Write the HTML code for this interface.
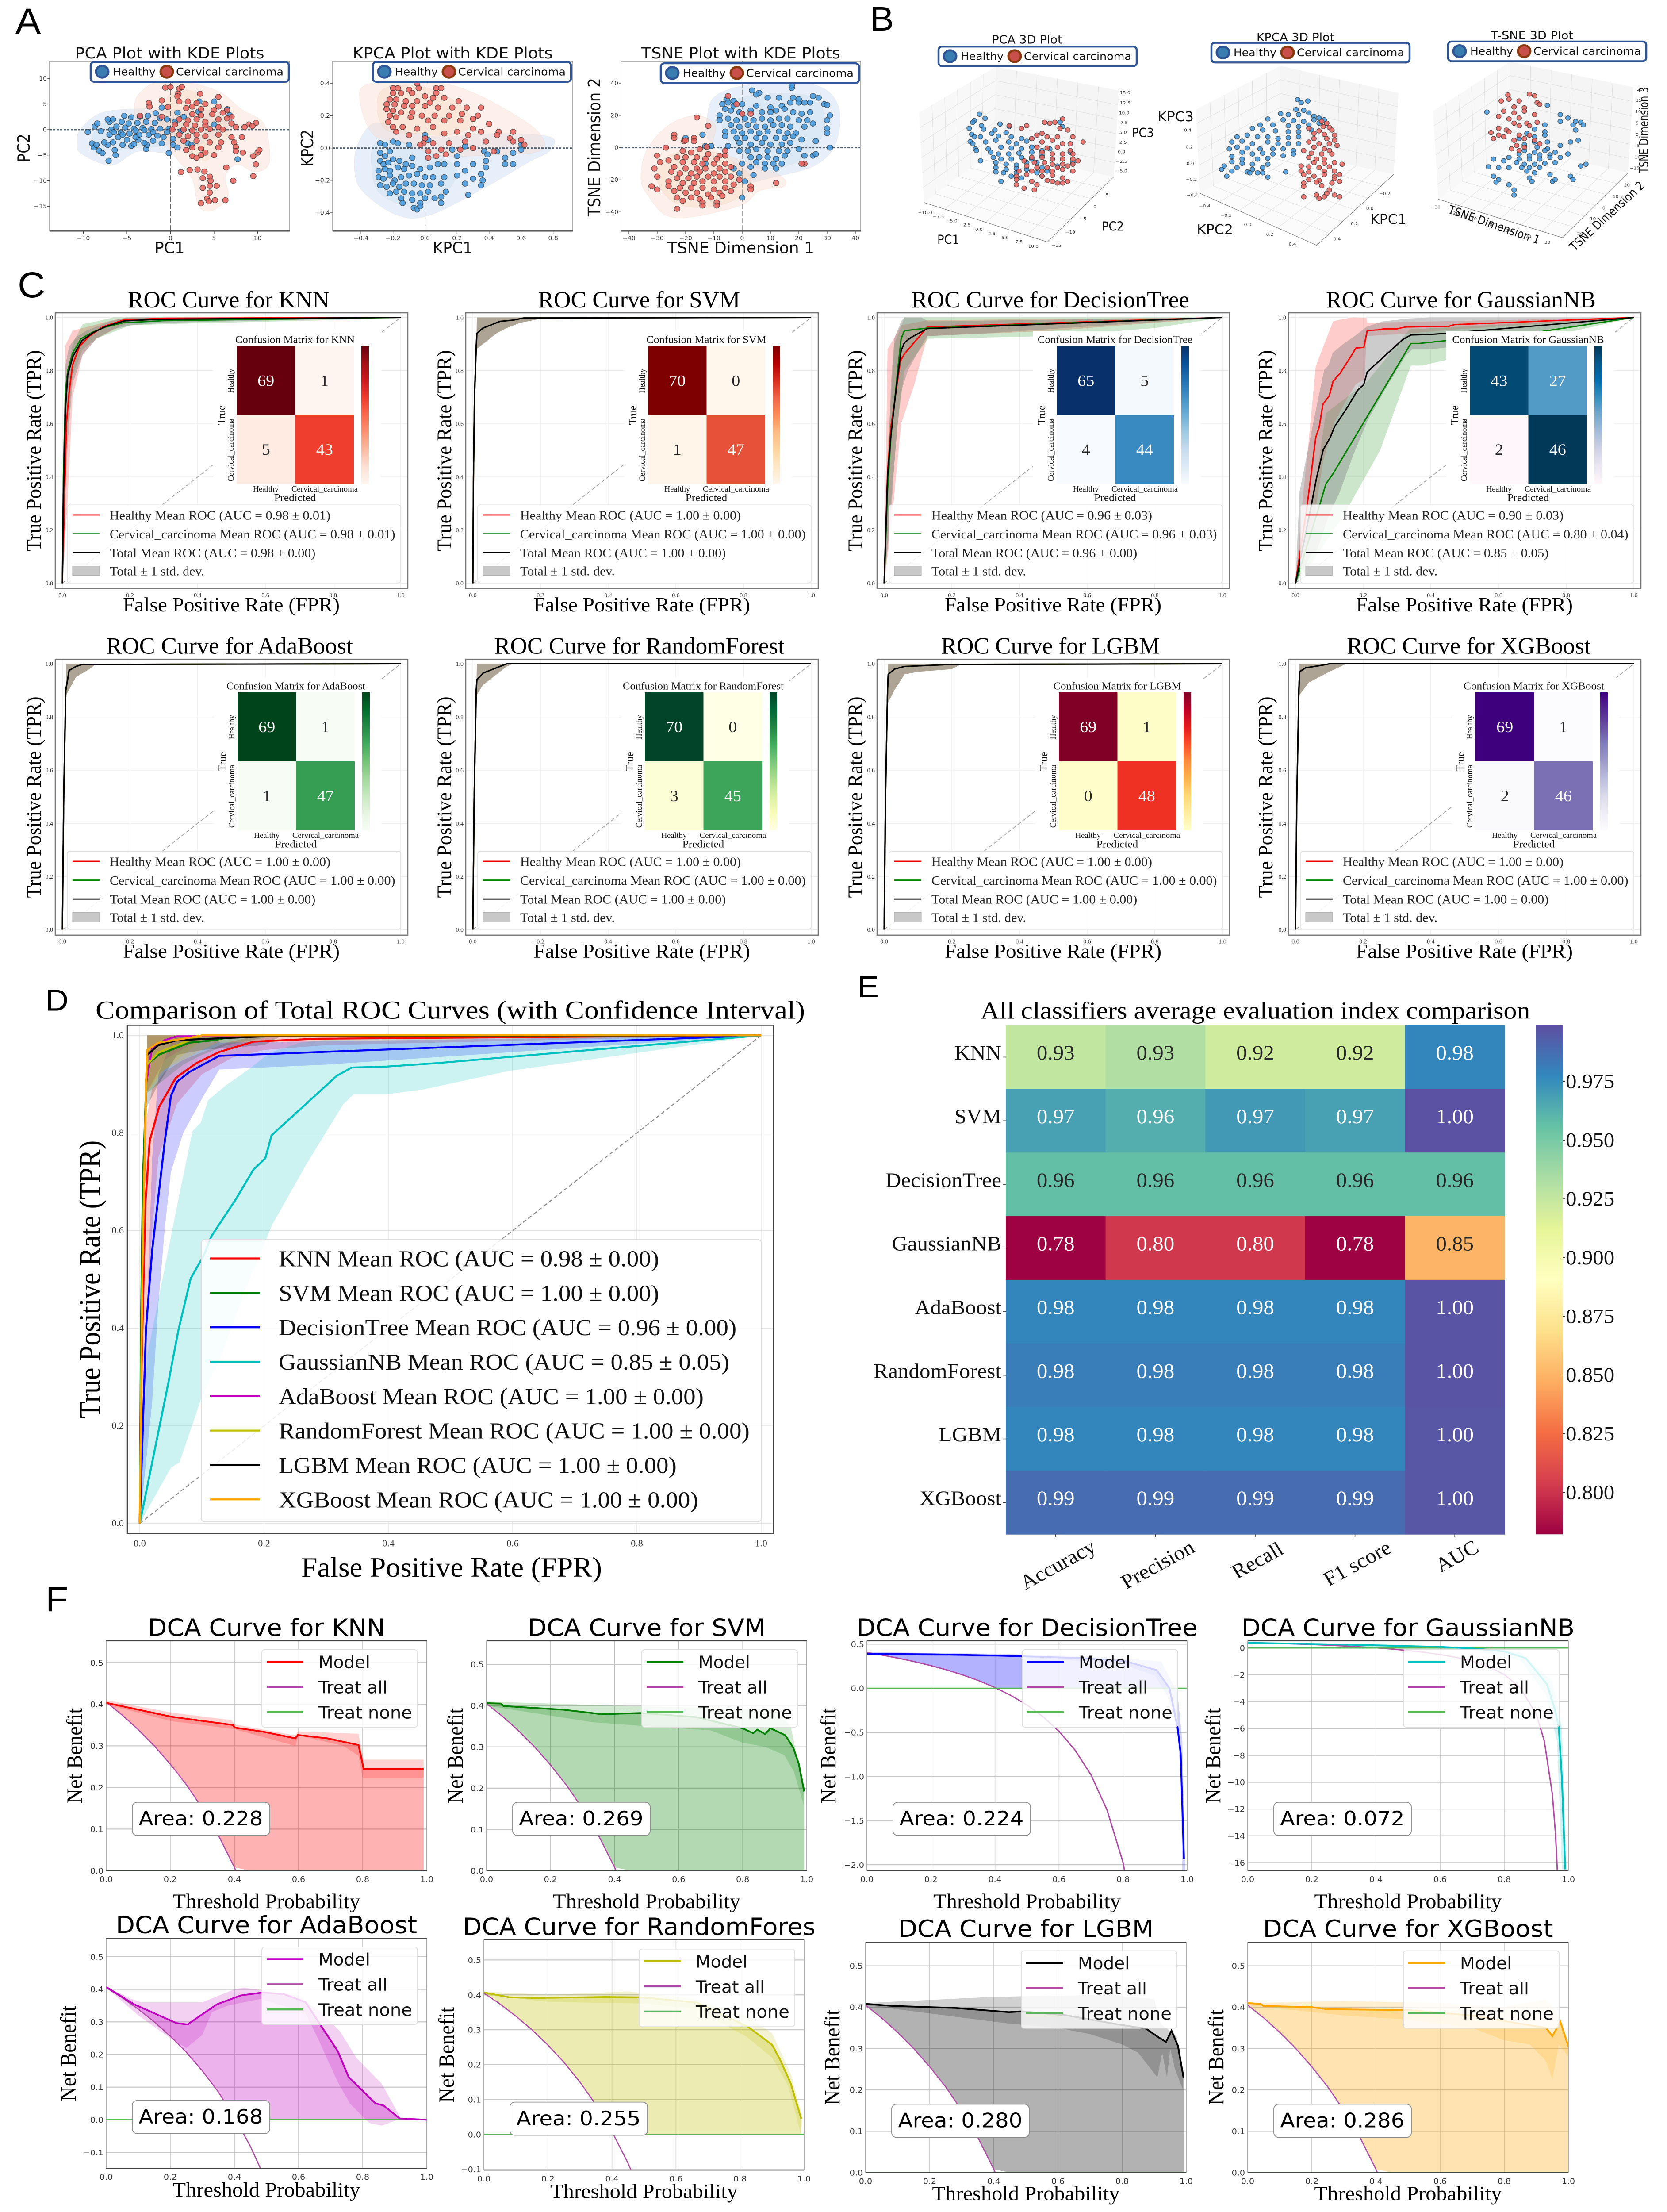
<!DOCTYPE html>
<html lang="en">
<head>
<meta charset="utf-8">
<title>Classifier comparison figure</title>
<style>
html,body{margin:0;padding:0;background:#fff;width:3769px;overflow:hidden}
html,body{height:min(5275px,100vh)}
svg{display:block;position:absolute;left:0;top:0;width:3769px;height:min(5275px,100vh)}
</style>
</head>
<body>
<svg id="figure" xmlns="http://www.w3.org/2000/svg" viewBox="0 0 3769 5275" preserveAspectRatio="none">
<rect width="3769" height="5275" fill="#fff"/>
<defs id="defs"></defs>
</svg>
<script>
/* ---------- Panel A data (axis units) ---------- */
const pcaHealthy=[[-9.5,-.5],[-8.7,.6],[-8.4,1.2],[-9,-2.7],[-8.8,-3.5],[-8.5,-3],[-8.2,-4.1],[-7.8,-4.6],[-7.1,-6.1],[-6.3,-5],[-6.4,-4],[-7.2,-3],[-6.6,-2.5],[-7.6,-2.5],[-5.5,-3],[-4.5,-3.2],[-4.2,-2.8],[-2.8,-3.8],[-2.7,-3],[-3.7,-2],[-5,-2],[-6,-1.5],[-7,-1],[-8,-.3],[-6.8,0],[-5.7,-.6],[-4.7,-.8],[-3.6,-1],[-2.5,-1],[-1.5,-1.2],[-.8,-1.5],[-6.2,.6],[-5.2,.4],[-4.2,.2],[-3.2,.3],[-2.2,.1],[-1.2,.2],[-.2,.2],[-7,1.5],[-7.2,2],[-6.6,2],[-5.6,1.5],[-4.8,1.2],[-3.8,1.3],[-2.8,1.5],[-1.8,1.3],[-5.3,2.7],[-4.5,2.4],[-3.5,2.5],[-2.6,2.7],[-1.7,3.2],[-1.2,2.2],[-1,4.3],[.8,3.3],[1.5,2.5],[.5,1.5],[-.4,2],[-.4,-.5],[1.2,-.3],[.3,-1.8],[-2,-2.2],[-1,-2.7],[.3,-3],[.8,-3.5],[-.2,-4.6],[2,-2.7],[2.4,-3],[3.2,3.5],[3.3,5.5],[5,5.5],[6.5,4],[6.8,2.8],[5,1],[7.7,-5.8],[-4,-1.5],[-3,-2.6],[-5.5,-1],[-6.5,-.5],[-4,-.2],[-3,-.1],[-2,-.5]];
const pcaCervical=[[-.6,8.2],[0,8.3],[1,8],[1.3,8.3],[.9,7],[.8,6.5],[3.4,7],[5.5,6.4],[-2.5,5.2],[-1,5.7],[1,5.5],[2,5.5],[3,5.2],[4,5],[5.5,4.5],[-2.4,4.5],[-.3,4.4],[1.8,4.2],[2.5,4.5],[3.5,4],[5,3.8],[6.5,3.8],[2.5,3],[3.5,2.8],[4.8,3],[6,3.3],[7,2.5],[-3.5,2.7],[-1,2.5],[1,2],[2,1.8],[3,2],[4,1.5],[5.5,2],[6.5,2.2],[.5,1],[1.8,1],[2.8,.8],[4,.8],[5.5,.5],[7,1.2],[9,1],[9.8,1.3],[.2,0],[1.5,0],[2.5,-.2],[3.5,0],[4.5,.1],[6,0],[7.5,.5],[8.5,.5],[9.4,.7],[1,-1],[2,-1.3],[3,-1],[4,-1.3],[5.5,-1],[7,-1.5],[8.2,-1.5],[1.5,-2.2],[3,-2.2],[4.5,-2.5],[5.8,-2.5],[7.3,-2.5],[2.5,-3.5],[3.5,-3.7],[5.5,-3.5],[7.5,-3.4],[1.8,-4],[3.5,-5],[4,-4.5],[5,-5],[2.5,-5.2],[7.5,-4.2],[8.3,-4.5],[10,-4.5],[9.5,-5.2],[10.2,-4],[3,-5.5],[9.8,-6.8],[6.4,-7.4],[1.2,-8.3],[2.2,-7.9],[3.1,-7.8],[3.9,-8.2],[3.7,-9.5],[4.5,-9.2],[4.6,-10],[7.2,-10],[9.5,-9.1],[3.7,-11.4],[4.5,-11],[5.3,-11],[4.5,-12.3],[4.2,-13.5],[4.4,-14],[5.1,-13.8],[6.3,-13.8],[3.5,-14.4]];
const pcaHealthyKde=[[-10.7,-3.1],[-10.4,-.1],[-7.9,3.3],[-3.2,4.1],[0,3.9],[5.7,3.6],[7.6,1.2],[5.7,-1.1],[2.5,-3.5],[-.6,-4.5],[-3.8,-4.3],[-6.3,-6.8],[-8.2,-6.5],[-10.4,-4.5]];
const pcaHealthyKdeInner=[[-9,-2.5],[-8,1],[-4,2.7],[0,2.5],[2,0],[-.5,-3],[-4,-3.5],[-7.5,-4]];
const pcaCervicalKde=[[-4.1,3.9],[-3.8,6.6],[-1.6,9.3],[2.2,9.1],[5.7,7.3],[8.2,3.9],[10.7,1.2],[11.4,-4.8],[11,-7.5],[9.5,-8.2],[7.6,-6.8],[6.3,-9.2],[6.6,-13.2],[4.7,-15.9],[3.2,-14.9],[2.5,-9.8],[.6,-5.5],[-1.3,-1.4],[-3.8,1.9]];
const pcaCervicalKdeInner=[[-1,3],[0,7],[2.5,7.5],[5,4],[7,1],[6,-3],[4,-6],[1.5,-4],[-1,-1]];
const kpcaHealthy=[[-.28,-.03],[-.25,-.05],[-.22,-.02],[-.28,.03],[-.25,.02],[-.2,.04],[-.17,.03],[-.1,.02],[0,.08],[.02,.05],[.17,-.01],[.25,.01],[.37,-.02],[.45,-.02],[.6,.02],[.6,-.01],[.55,-.03],[-.28,-.08],[-.26,-.1],[-.23,-.09],[-.2,-.07],[-.16,-.08],[-.12,-.1],[-.08,-.06],[.2,-.05],[.39,-.04],[.38,-.08],[.5,-.06],[-.29,-.14],[-.25,-.13],[-.22,-.14],[-.17,-.12],[-.13,-.13],[-.08,-.11],[-.03,-.13],[.03,-.12],[.08,-.1],[.12,-.1],[.2,-.1],[.3,-.1],[.38,-.12],[.5,-.1],[.55,-.1],[.25,-.14],[.35,-.16],[-.29,-.18],[-.26,-.19],[-.22,-.17],[-.19,-.2],[-.15,-.18],[-.1,-.17],[-.05,-.16],[0,-.18],[.05,-.18],[.12,-.18],[.2,-.17],[.3,-.19],[.36,-.2],[-.28,-.23],[-.24,-.24],[-.2,-.22],[-.16,-.24],[-.12,-.22],[-.07,-.22],[-.02,-.23],[.03,-.23],[.1,-.22],[.25,-.22],[.35,-.23],[-.22,-.28],[-.18,-.27],[-.13,-.27],[-.08,-.28],[-.03,-.28],[.02,-.27],[.13,-.27],[.27,-.29],[-.15,-.31],[-.08,-.32],[0,-.31],[.06,-.31],[.1,-.3],[-.14,-.34],[-.03,-.34],[.1,-.34],[-.07,-.37],[-.05,-.38],[-.03,-.36]];
const kpcaCervical=[[-.05,.4],[-.2,.37],[-.17,.37],[-.1,.36],[-.04,.37],[.07,.37],[.1,.37],[-.2,.34],[-.15,.34],[-.08,.34],[0,.32],[.07,.34],[.05,.31],[-.22,.3],[-.18,.3],[-.12,.29],[-.05,.29],[.03,.28],[.12,.31],[.21,.29],[-.24,.27],[-.19,.27],[-.13,.26],[-.08,.26],[0,.26],[.08,.25],[.17,.25],[.26,.25],[.35,.25],[-.24,.24],[-.2,.23],[-.15,.22],[-.08,.22],[-.02,.2],[.06,.2],[.15,.2],[.23,.21],[.3,.18],[.33,.2],[-.22,.2],[-.18,.19],[-.09,.19],[.02,.17],[.12,.17],[.22,.17],[.4,.15],[-.23,.16],[-.2,.13],[-.14,.13],[-.05,.12],[.05,.13],[.2,.1],[.3,.12],[.35,.1],[.46,.1],[.55,.1],[-.18,.1],[-.1,.08],[0,.06],[.12,.09],[.27,.08],[.45,.08],[.53,.06],[-.01,.03],[.05,.03],[.15,.03],[.25,.04],[.38,.04],[.55,.04],[.62,.02],[.6,.05],[-.03,.02],[.02,-.02],[.1,-.01],[.22,-.01],[.3,0],[.43,-.02],[.07,-.05],[.02,-.06],[.13,-.04]];
const kpcaHealthyKde=[[-.44,-.142],[-.423,.016],[-.32,.153],[-.148,.11],[.093,.069],[.436,.09],[.78,.069],[.78,-.016],[.643,-.09],[.368,-.248],[.024,-.417],[-.182,-.412],[-.388,-.269]];
const kpcaHealthyKdeInner=[[-.33,-.15],[-.31,.03],[-.1,.03],[.1,-.05],[.2,-.15],[.1,-.3],[-.1,-.36],[-.28,-.28]];
const kpcaCervicalKde=[[-.405,.28],[-.354,.396],[.024,.41],[.3,.343],[.643,.153],[.746,.037],[.694,-.026],[.436,-.042],[.093,-.047],[-.148,.037],[-.32,.079]];
const kpcaCervicalKdeInner=[[-.3,.25],[-.25,.37],[-.02,.38],[.2,.28],[.3,.15],[.15,.08],[-.05,.09],[-.24,.11]];
const tsneHealthy=[[17.5,37],[17.5,38.5],[3.5,35.5],[6,34],[5,33],[-5.5,30],[-3,29],[9,31],[13,31],[18,31],[20,30],[25,32],[27,31],[-7,27],[-5,28],[-3,26],[0,27],[5,26],[10,25],[14,26],[17,28],[20,28],[22,28],[24,28],[29,27],[30,26.5],[-8,20],[-6,24],[-4,23],[-1,22],[3,23],[7,22],[10,22],[12,23],[15,24],[18,22],[21,21],[24,22],[-8,17],[-5,18],[-2,17],[1,18],[4,17],[7,18],[10,17],[13,18],[16,18],[20,17],[23,17],[31,20],[30,17],[-4,14],[-1,13],[2,14],[5,13],[8,13],[11,14],[14,14],[17,13],[22,13],[25,15],[-6,10],[-3,10],[0,9],[3,10],[6,9],[9,10],[13,10],[16,9],[19,9],[-6,7],[-2,6],[1,6],[5,6],[8,6],[12,6],[15,6],[18,7],[21,5],[26,4],[30,9],[30,12],[-1,3],[3,2],[7,3],[10,2],[14,2],[17,3],[20,-1],[31,0],[-1,-2],[2,-2],[5,-1],[9,-2],[13,-2],[16,-2],[22,-5],[25,-5],[26,-4],[3,-6],[6,-6],[9,-6],[12,-7],[15,-5],[5,-9],[8,-10],[11,-10],[14,-10],[3,-12],[8,-13],[12,-13],[4,-17],[1,-21],[0,-31],[-13,-10],[-1,-16],[-14,8],[-20,6],[-5,1],[-11,1],[-13,1],[0,-10],[-3,-13]];
const tsneCervical=[[-16,18.7],[-12,13.5],[-24,8],[-24,6],[-17,6],[-17,4],[-20.5,4],[-20,4.5],[-27,0],[-12.5,.5],[-30,-5],[-15,-1],[-21,-2],[-18,-3],[-12,-4],[-8,-5],[-6,-5],[-23,-6],[-20,-6],[-16,-6],[-13,-7],[-9,-7],[-26,-8],[-29,-9],[-21,-9],[-17,-9],[-14,-10],[-10,-10],[-6,-10],[-31,-13],[-24,-12],[-20,-13],[-16,-13],[-13,-13],[-8,-13],[-4,-12],[-25,-15],[-22,-16],[-18,-16],[-15,-15],[-10,-16],[-6,-15],[-30,-18],[-23,-19],[-19,-19],[-16,-18],[-12,-18],[-8,-18],[-4,-18],[-1,-20],[-26,-21],[-21,-22],[-17,-22],[-14,-21],[-10,-21],[-6,-21],[-3,-23],[-32,-24],[-30,-26],[-26,-24],[-22,-25],[-18,-25],[-14,-25],[-10,-26],[-6,-25],[3,-24],[3,-26],[-24,-27],[-20,-28],[-16,-28],[-12,-29],[-8,-28],[-4,-27],[-23,-31],[-18,-31],[-15,-32],[-11,-31],[-7,-30],[-21,-33],[-14,-34],[-9,-34],[-23,-38],[-14,-36],[-9,-36],[22,-10],[21,-10],[12,-22],[-6,-2],[-5,32],[-2,27],[3,21],[0,21]];
const tsneHealthyKde=[[-12.5,17.3],[-9.5,32],[4,39.5],[25.5,39],[34,25.7],[33,2.4],[25.5,-11.3],[10,-18.8],[-1.8,-23],[-1.8,-12.4],[-9.5,1.4],[-12.5,6.7]];
const tsneHealthyKdeInner=[[-7,12],[-5,27],[6,33],[24,32],[29,20],[27,3],[18,-10],[6,-13],[-1,-3]];
const tsneCervicalKde=[[-35.8,-19.8],[-33.8,-1.8],[-26,14],[-16.3,19.9],[-9.5,14],[-9.5,-.7],[4,-10.3],[13.8,-17.7],[14.8,-24],[6,-27],[-.2,-35.7],[-17.3,-43],[-27,-42],[-33,-30.4]];
const tsneCervicalKdeInner=[[-30,-20],[-27,-6],[-15,-1],[-6,-6],[3,-18],[0,-30],[-12,-37],[-24,-34]];
const pcaXTicks=[-10,-5,0,5,10];
const pcaYTicks=[10,5,0,-5,-10,-15];
const kpcaXTicks=[-.4,-.2,0,.2,.4,.6,.8];
const kpcaYTicks=[.4,.2,0,-.2,-.4];
const tsneXTicks=[-40,-30,-20,-10,0,10,20,30,40];
const tsneYTicks=[40,20,0,-20,-40];

/* ---------- Panel B data (projected scene coordinates) ---------- */
const pca3dHealthy=[[22.8,66.8],[23.9,69.2],[21.8,70.5],[21.5,71.5],[23.2,73.5],[20.8,75],[23.6,75.5],[26.8,72.5],[25.8,76],[28,77.5],[21.3,78.5],[21.8,80],[25.2,78],[23,80],[26.5,79.5],[29,80],[31,81],[33,81],[21,82.8],[21.5,84],[24,83],[26,82],[28.5,83],[30,84],[32,82.5],[22,87],[24.5,87],[27,86],[29,86.5],[31,87],[33,86],[22.2,88],[25,89],[26.5,90],[28.5,90],[30.5,89.5],[33,89],[35,88],[36.5,87],[25.5,92],[27,93],[29,93],[31,92],[23,94],[33,93],[35,91],[26,95],[28,96],[30,96.5],[32,95],[34,95],[37,93],[26,98],[28,99],[30,98.5],[32,99],[35,98],[26,100.5],[27.5,101],[30,101],[34,101],[36,100],[38,97],[29,103],[31,104],[35,103],[27,106],[40.5,89],[39,74],[38.5,71.5],[28.6,74],[41,95]];
const pca3dCervical=[[35.5,71.5],[36.5,72],[37.5,71.5],[39,69.5],[28.6,73.5],[32,73.5],[31,75],[38.5,75],[40,76],[35,78],[34,79],[36,80],[38,80],[33,81],[41,80],[35,83],[37,82],[39,84],[43,83],[40.5,84],[34,86],[36,86.5],[38,86],[40.5,88],[35,89],[37,90],[39,90],[41,90],[33,92],[35,92],[37,93],[39,93],[41,93],[42,94],[31.5,94],[33.5,95],[35.5,95],[37,96],[39,96],[41,96],[32,97],[34,98],[36,98],[38,98],[40,97],[30.5,100],[33,100],[35,100],[37,100],[39,99],[41,100],[30,103],[32,102],[35,103],[37,102.5],[39,104],[30,105],[33,106],[36,105.5],[38,107],[40,106],[30,108],[34,108],[31.5,110],[33.5,111],[39,107],[37,106]];
const kpca3dHealthy=[[84.8,58.2],[85.5,60],[86.8,59],[84.5,64],[86,64.5],[81.5,66.5],[83,67],[85,67],[87,66],[88,68],[79,69.5],[82,70],[84,70.5],[86,71],[88,70],[89,69],[90,70],[77.5,73],[80,73],[83,73.5],[85,74],[87,73],[89,72],[76,75],[78,76],[80.5,76.5],[83,77],[85,77],[87.5,76],[73,80],[75,79],[77,80],[79,80],[81,81],[83,80.5],[85,80],[72,83],[74,82.5],[76,84],[79,83],[81,84],[83,84],[85,84],[73,86],[75,86.5],[77.5,87],[80,87],[82,87],[84,88],[71.5,87],[74,89],[76,90],[78,89.5],[80,90],[82,91],[84,90],[72,91.5],[74,93],[77,93],[79,92.5],[72,94.5],[74,95.5],[76,96],[79,96],[73,98],[76,99],[78,98],[70.5,97],[70,99],[72,100],[75,100.5],[78,101],[71,103],[75.5,101],[77,101],[79,103.5],[82.5,100.5]];
const kpca3dCervical=[[89.5,71],[90.5,72],[89.8,74],[91,74.5],[87,75],[89,76.5],[91.5,76],[88,78],[90,78.5],[92,79],[88,81],[90.5,81],[92,82],[87,83],[89,84],[91,84],[92.5,85],[88,86],[90,87],[91,88],[86,88],[87.5,89.5],[89.5,90],[91.5,90],[87,92],[88.5,93],[90,93],[88,95],[90,95.5],[92,95],[93.5,96],[85.5,97],[87,97.5],[89,98],[91,97.5],[85.5,100],[87,100.5],[90,100],[92,100],[86,102],[88,103],[90,102],[93,102],[92,103],[87,105],[89,105.5],[92,104.5],[86,107],[88.5,106.5],[91.5,107],[93,106],[86,109],[89.5,108.5],[91,111],[90.5,113],[88.5,114],[90,115],[92,114],[93,115],[86,115],[89,116]];
const tsne3dHealthy=[[121.7,65.5],[133.5,61.5],[136,67],[137.5,69],[139,71],[140,71.5],[136,71],[138.5,73],[140.5,73],[139,76],[133,73],[131,75.5],[133,77],[129.5,78],[131,80],[133,79],[128,81],[131,83],[133.5,83],[129,84.5],[131.5,86],[133.5,87],[139.5,82],[138,83],[136,85],[129,88],[131,89],[133,88],[135,89],[130,91],[132,90.5],[134,90.5],[137.5,90],[128,90],[126,92],[128,93],[130,93],[132,93],[134,92],[136,92],[123,93],[125,94],[127.5,95],[129,96],[131,96],[133,95.5],[135,95],[122,97.5],[124,98],[126,98],[128.5,98],[130,98],[132,98],[129.5,100],[131,101],[134,102],[141,96],[140,97],[123,103],[124,105],[123.5,106.5],[126,108],[127,111],[130.5,106],[134.5,106],[135,105],[138,103],[138.5,105],[127,114],[130,104]];
const tsne3dCervical=[[125.8,55.5],[130,55],[131,56],[124.5,59],[126,58],[128,59],[131.5,60],[132,61],[127,62.5],[129,63],[125,65],[127,66],[129,65],[131,67],[124,68],[126,69.5],[128,69],[127,72],[129.5,72],[131.5,71.5],[124,75],[125.5,76],[128,73.5],[130,73.5],[122.5,77.5],[124,79],[126,77],[128,79],[130,79],[123,81],[125,80],[127,82],[129,81],[131,82],[127.5,85],[129,86],[126.5,87],[128,88],[132,84]];

/* ---------- Panel C / D ROC data ---------- */
const rocTicks=[0,.2,.4,.6,.8,1];
const knnTotal=[[0,0],[.003,.33],[.009,.656],[.016,.784],[.031,.853],[.058,.913],[.091,.943],[.128,.966],[.183,.987],[.283,.993],[1,1]];
const knnHealthy=[[0,0],[.006,.3],[.012,.6],[.02,.72],[.03,.82],[.05,.89],[.08,.93],[.12,.965],[.18,.99],[.3,.997],[1,1]];
const knnCervical=[[0,0],[.003,.4],[.009,.72],[.016,.8],[.03,.865],[.055,.92],[.09,.945],[.13,.965],[.18,.98],[.3,.988],[1,1]];
const knnUp=[[0,0],[.004,.5],[.009,.82],[.02,.89],[.04,.925],[.07,.95],[.1,.965],[.14,.985],[.19,1],[1,1]];
const knnLow=[[0,0],[.01,.4],[.02,.6],[.03,.75],[.06,.86],[.1,.92],[.15,.955],[.2,.97],[.3,.98],[1,1]];
const knnHUp=[[0,0],[.008,.5],[.009,.895],[.03,.95],[.06,.96],[.15,.99],[.2,1],[1,1]];
const knnHLow=[[0,0],[.015,.3],[.03,.7],[.06,.86],[.1,.92],[.2,.985],[1,1]];
const knnCUp=[[0,0],[.01,.75],[.03,.9],[.06,.975],[.1,.985],[.15,1],[1,1]];
const knnCLow=[[0,0],[.01,.5],[.03,.78],[.06,.88],[.1,.92],[.2,.97],[.3,.975],[.8,.99],[1,1]];
const svmTotal=[[0,0],[.002,.4],[.005,.7],[.01,.89],[.012,.94],[.03,.96],[.06,.975],[.08,.985],[.12,.99],[.15,.998],[1,1]];
const svmUp=[[0,0],[.005,.7],[.01,.88],[.012,1],[1,1]];
const svmLow=[[0,0],[.005,.7],[.01,.88],[.03,.9],[.07,.94],[.1,.96],[.14,.98],[.2,.995],[.21,1],[1,1]];
const dtTotal=[[0,0],[.01,.4],[.02,.56],[.04,.78],[.05,.875],[.06,.905],[.08,.925],[.128,.958],[1,1]];
const dtHealthy=[[0,0],[.01,.417],[.02,.588],[.048,.836],[.06,.863],[.128,.964],[1,1]];
const dtCervical=[[0,0],[.01,.35],[.02,.55],[.04,.8],[.05,.92],[.06,.95],[.128,.96],[1,1]];
const dtUp=[[0,0],[.008,.3],[.02,.75],[.03,.92],[.05,.985],[.06,1],[.11,1],[.13,.985],[1,1]];
const dtLow=[[0,0],[.02,.25],[.03,.45],[.04,.6],[.05,.72],[.07,.8],[.1,.87],[.128,.93],[.3,.94],[1,1]];
const dtHUp=[[0,0],[.01,.88],[.05,.97],[.13,.99],[1,1]];
const dtHLow=[[0,0],[.02,.2],[.05,.6],[.09,.75],[.128,.93],[.5,.95],[1,1]];
const dtCUp=[[0,0],[.01,.5],[.03,.9],[.06,1],[.13,1],[1,1]];
const dtCLow=[[0,0],[.02,.3],[.04,.6],[.06,.8],[.13,.92],[.5,.93],[.8,.96],[1,1]];
const gnbTotal=[[0,0],[.046,.288],[.062,.395],[.082,.502],[.103,.549],[.115,.588],[.155,.665],[.183,.725],[.202,.748],[.212,.795],[.317,.917],[.341,.934],[.397,.936],[.478,.943],[1,1]];
const gnbHealthy=[[0,0],[.034,.288],[.06,.549],[.07,.588],[.081,.673],[.1,.706],[.111,.759],[.131,.789],[.155,.836],[.179,.885],[.202,.887],[.212,.951],[.244,.953],[.26,.957],[.3,.957],[.325,.964],[.454,.967],[.47,.973],[1,1]];
const gnbCervical=[[0,0],[.074,.305],[.09,.374],[.111,.412],[.341,.902],[.365,.902],[.446,.913],[.64,.93],[1,1]];
const gnbUp=[[0,0],[.012,.344],[.06,.651],[.085,.804],[.098,.821],[.11,.867],[.137,.896],[.176,.931],[.21,.965],[.258,.985],[.336,.996],[.396,1],[1,1]];
const gnbLow=[[0,0],[.05,.114],[.064,.125],[.1,.26],[.13,.34],[.17,.48],[.213,.612],[.27,.74],[.327,.858],[.344,.879],[.396,.879],[.456,.889],[.594,.927],[1,1]];
const gnbHUp=[[0,0],[.02,.3],[.04,.55],[.06,.817],[.111,.985],[.139,.994],[.171,1],[.21,.998],[.212,.98],[1,1]];
const gnbHLow=[[0,0],[.05,.203],[.082,.459],[.115,.605],[.155,.7],[.179,.75],[.204,.767],[.21,.93],[.317,.938],[.478,.955],[1,1]];
const gnbCUp=[[0,0],[.05,.3],[.09,.64],[.212,.759],[.337,.955],[1,1]];
const gnbCLow=[[0,0],[.06,.1],[.14,.25],[.25,.5],[.341,.819],[.373,.819],[.478,.849],[1,1]];
const adaTotal=[[0,0],[.004,.5],[.01,.9],[.02,.975],[.04,.99],[.06,.998],[1,1]];
const adaUp=[[0,0],[.004,.5],[.01,.88],[.012,1],[1,1]];
const adaLow=[[0,0],[.004,.5],[.01,.88],[.04,.95],[.08,.98],[.1,1],[1,1]];
const rfTotal=[[0,0],[.004,.5],[.01,.9],[.012,.94],[.03,.965],[.06,.98],[.08,.99],[.1,1],[1,1]];
const rfUp=[[0,0],[.004,.5],[.01,.88],[.012,1],[1,1]];
const rfLow=[[0,0],[.004,.5],[.01,.88],[.03,.92],[.06,.95],[.1,.99],[.12,1],[1,1]];
const lgbmTotal=[[0,0],[.004,.5],[.01,.9],[.012,.96],[.03,.98],[.06,.99],[.2,.998],[1,1]];
const lgbmUp=[[0,0],[.004,.5],[.01,.85],[.012,1],[1,1]];
const lgbmLow=[[0,0],[.004,.5],[.01,.85],[.03,.9],[.06,.96],[.1,.97],[.2,.98],[.23,1],[1,1]];
const xgbTotal=[[0,0],[.004,.5],[.01,.9],[.012,.97],[.03,.985],[.08,.995],[.1,1],[1,1]];
const xgbUp=[[0,0],[.004,.5],[.01,.88],[.012,1],[1,1]];
const xgbLow=[[0,0],[.004,.5],[.01,.88],[.04,.93],[.1,.97],[.15,1],[1,1]];
const knnConfusion=[69,1,5,43];
const svmConfusion=[70,0,1,47];
const dtConfusion=[65,5,4,44];
const gnbConfusion=[43,27,2,46];
const adaConfusion=[69,1,1,47];
const rfConfusion=[70,0,3,45];
const lgbmConfusion=[69,1,0,48];
const xgbConfusion=[69,1,2,46];
const confusionLabels=['Healthy','Cervical_carcinoma'];
const rocLegendAuc=[['0.98 ± 0.01','0.98 ± 0.01','0.98 ± 0.00'],['1.00 ± 0.00','1.00 ± 0.00','1.00 ± 0.00'],['0.96 ± 0.03','0.96 ± 0.03','0.96 ± 0.00'],['0.90 ± 0.03','0.80 ± 0.04','0.85 ± 0.05'],['1.00 ± 0.00','1.00 ± 0.00','1.00 ± 0.00'],['1.00 ± 0.00','1.00 ± 0.00','1.00 ± 0.00'],['1.00 ± 0.00','1.00 ± 0.00','1.00 ± 0.00'],['1.00 ± 0.00','1.00 ± 0.00','1.00 ± 0.00']];
const modelNames=['KNN','SVM','DecisionTree','GaussianNB','AdaBoost','RandomForest','LGBM','XGBoost'];
const modelColors=['#ff0000','#008000','#0000ff','#00bfbf','#bf00bf','#bfbf00','#000000','#ffa500'];
const totalAucLabels=['0.98 ± 0.00','1.00 ± 0.00','0.96 ± 0.00','0.85 ± 0.05','1.00 ± 0.00','1.00 ± 0.00','1.00 ± 0.00','1.00 ± 0.00'];

/* ---------- Panel E data ---------- */
const metricNames=['Accuracy','Precision','Recall','F1 score','AUC'];
const scoreKNN=[.926,.932,.921,.921,.978];
const scoreSVM=[.968,.963,.971,.968,.998];
const scoreDT=[.957,.957,.957,.957,.957];
const scoreGNB=[.783,.802,.802,.783,.85];
const scoreAda=[.978,.978,.978,.978,.997];
const scoreRF=[.981,.981,.981,.981,.997];
const scoreLGBM=[.978,.978,.978,.978,.996];
const scoreXGB=[.988,.988,.988,.988,.996];
const colorbarTicks=[.975,.95,.925,.9,.875,.85,.825,.8];

/* ---------- Panel F data ---------- */
const dcaXTicks=[0,.2,.4,.6,.8,1];
const treatAllThreshold=[0,.05,.1,.15,.2,.25,.3,.35,.4,.45,.5,.55,.6,.65,.7,.75,.8,.85,.9,.925,.95,.96,.97];
const treatAllBenefit=[.405,.374,.339,.3,.256,.207,.15,.085,.008,-.082,-.19,-.322,-.488,-.7,-.983,-1.38,-1.975,-2.97,-4.95,-6.93,-10.9,-13.9,-18.8];
const dcaKnn=[[0,.4035],[.204,.37],[.397,.35],[.4,.344],[.49,.334],[.59,.318],[.598,.326],[.69,.318],[.787,.302],[.803,.245],[.99,.245]];
const dcaKnnUp=[[0,.41],[.204,.38],[.39,.362],[.4,.352],[.59,.325],[.598,.335],[.787,.329],[.803,.267],[.99,.267]];
const dcaKnnLow=[[0,.4],[.2,.36],[.4,.34],[.59,.3],[.6,.325],[.74,.3],[.787,.276],[.8,.222],[.99,.222]];
const dcaSvm=[[0,.406],[.045,.405],[.053,.399],[.24,.39],[.33,.382],[.36,.379],[.48,.382],[.57,.377],[.657,.372],[.8,.345],[.833,.333],[.845,.342],[.87,.331],[.887,.345],[.933,.328],[.958,.298],[.975,.259],[.992,.192]];
const dcaSvmUp=[[0,.41],[.4,.4],[.9,.39],[.95,.35],[.99,.2]];
const dcaSvmLow=[[0,.4],[.33,.36],[.5,.35],[.7,.34],[.8,.31],[.87,.3],[.93,.28],[.96,.24],[.99,.16]];
const dcaDt=[[0,.39],[.2,.385],[.41,.37],[.485,.362],[.66,.343],[.805,.309],[.905,.205],[.945,-.002],[.97,-.44],[.98,-.74],[.99,-1.93]];
const dcaDtUp=[[0,.41],[.41,.39],[.66,.365],[.805,.34],[.92,.3],[.97,-.05],[.985,-.6],[.995,-2.1]];
const dcaDtLow=[[0,.38],[.5,.35],[.8,.27],[.9,.14],[.94,-.1],[.97,-.5],[.98,-1],[.985,-2.1]];
const dcaGnb=[[0,.38],[.2,.3],[.4,.2],[.6,.08],[.7,-.03],[.8,-.25],[.867,-.76],[.933,-2.7],[.957,-4.5],[.97,-5.9],[.98,-9.8],[.99,-16.5]];
const dcaGnbUp=[[0,.42],[.4,.26],[.7,.06],[.85,-.3],[.95,-2.5],[.98,-6],[.995,-16.5]];
const dcaGnbLow=[[0,.34],[.4,.14],[.7,-.15],[.85,-.9],[.93,-3.5],[.965,-7],[.98,-16.5]];
const dcaAda=[[0,.407],[.087,.354],[.22,.296],[.254,.292],[.28,.31],[.346,.354],[.42,.381],[.488,.39],[.555,.385],[.622,.36],[.672,.285],[.722,.211],[.756,.131],[.84,.05],[.865,.044],[.915,.004],[1,0]];
const dcaAdaUp=[[0,.407],[.08,.37],[.11,.36],[.3,.36],[.4,.4],[.43,.405],[.5,.395],[.6,.38],[.67,.33],[.73,.27],[.78,.19],[.86,.11],[.91,.02],[.92,0],[1,0]];
const dcaAdaLow=[[0,.405],[.1,.32],[.2,.25],[.25,.22],[.3,.26],[.33,.33],[.38,.35],[.48,.37],[.62,.33],[.66,.25],[.72,.12],[.76,.05],[.82,-.01],[.86,-.018],[.91,0],[1,0]];
const dcaRf=[[0,.407],[.08,.393],[.16,.391],[.38,.394],[.49,.393],[.665,.378],[.824,.309],[.9,.257],[.924,.216],[.958,.147],[.991,.045]];
const dcaRfUp=[[0,.41],[.2,.4],[.45,.41],[.65,.39],[.82,.34],[.9,.29],[.96,.17],[.995,.05]];
const dcaRfLow=[[0,.4],[.2,.38],[.5,.375],[.66,.36],[.82,.28],[.9,.22],[.95,.14],[.99,0]];
const dcaLgbm=[[0,.408],[.085,.403],[.283,.398],[.447,.388],[.488,.39],[.63,.38],[.79,.358],[.875,.348],[.916,.326],[.937,.316],[.954,.343],[.974,.307],[.992,.228]];
const dcaLgbmUp=[[0,.41],[.4,.425],[.75,.43],[.9,.42],[.92,.36],[.97,.33],[.99,.23]];
const dcaLgbmLow=[[0,.405],[.2,.385],[.35,.37],[.45,.36],[.6,.35],[.7,.335],[.8,.31],[.85,.29],[.91,.23],[.925,.29],[.94,.23],[.95,.3],[.965,.25],[.99,.2]];
const dcaXgb=[[0,.41],[.04,.408],[.05,.403],[.2,.4],[.25,.395],[.5,.393],[.7,.38],[.85,.36],[.93,.35],[.95,.33],[.975,.365],[1,.305]];
const dcaXgbUp=[[0,.41],[.3,.415],[.6,.41],[.8,.4],[.93,.42],[.96,.39],[1,.32]];
const dcaXgbLow=[[0,.405],[.3,.38],[.5,.37],[.7,.35],[.8,.32],[.88,.31],[.93,.27],[.95,.225],[.97,.31],[1,.28]];
const dcaAreas=['0.228','0.269','0.224','0.072','0.168','0.255','0.280','0.286'];

/* ---------- Color maps ---------- */
const Reds=['#fff5f0','#fee0d2','#fcbba1','#fc9272','#fb6a4a','#ef3b2c','#cb181d','#a50f15','#67000d'];
const OrRd=['#fff7ec','#fee8c8','#fdd49e','#fdbb84','#fc8d59','#ef6548','#d7301f','#b30000','#7f0000'];
const Blues=['#f7fbff','#deebf7','#c6dbef','#9ecae1','#6baed6','#4292c6','#2171b5','#08519c','#08306b'];
const PuBu=['#fff7fb','#ece7f2','#d0d1e6','#a6bddb','#74a9cf','#3690c0','#0570b0','#045a8d','#023858'];
const Greens=['#f7fcf5','#e5f5e0','#c7e9c0','#a1d99b','#74c476','#41ab5d','#238b45','#006d2c','#00441b'];
const YlGn=['#ffffe5','#f7fcb9','#d9f0a3','#addd8e','#78c679','#41ab5d','#238443','#006837','#004529'];
const YlOrRd=['#ffffcc','#ffeda0','#fed976','#feb24c','#fd8d3c','#fc4e2a','#e31a1c','#bd0026','#800026'];
const Purples=['#fcfbfd','#efedf5','#dadaeb','#bcbddc','#9e9ac8','#807dba','#6a51a3','#54278f','#3f007d'];
const Spectral=['#9e0142','#d53e4f','#f46d43','#fdae61','#fee08b','#ffffbf','#e6f598','#abdda4','#66c2a5','#3288bd','#5e4fa2'];

/* ---------- Helpers ---------- */
const NS='http://www.w3.org/2000/svg';
const root=document.getElementById('figure');
const defs=document.getElementById('defs');
const SANS='"DejaVu Sans",sans-serif';
const SERIF='"Liberation Serif",serif';
let uid=0;
function el(parent,tag,name,attrs){
  const e=document.createElementNS(NS,tag);
  
  
  for(const k in attrs)e.setAttribute(k,attrs[k]);
  parent.appendChild(e);
  return e;
}
function group(parent,name){return el(parent,'g',name,{});}
function txt(parent,name,s,x,y,size,fam,o){
  o=o||{};
  const a={x:x,y:y,'font-size':size,'font-family':fam,fill:o.fill||'#111','text-anchor':o.anchor||'start'};
  if(o.len){a.textLength=o.len;a.lengthAdjust='spacingAndGlyphs';}
  if(o.rot!==undefined)a.transform='rotate('+o.rot+' '+x+' '+y+')';
  if(o.clip)a['clip-path']='url(#'+o.clip+')';
  const t=el(parent,'text',name,a);
  t.textContent=s;
  return t;
}
function scale(v0,p0,v1,p1){return v=>p0+(v-v0)*(p1-p0)/(v1-v0);}
function linePath(pts,sx,sy){return pts.map((p,i)=>(i?'L':'M')+sx(p[0]).toFixed(1)+' '+sy(p[1]).toFixed(1)).join('');}
function bandPath(up,low,sx,sy){return linePath(up,sx,sy)+linePath(low.slice().reverse(),sx,sy).replace('M','L')+'Z';}
function clampSeries(pts,yLo){
  const out=[];
  for(let i=0;i<pts.length;i++){
    if(pts[i][1]>=yLo){out.push(pts[i]);continue;}
    if(i>0){
      const a=pts[i-1],b=pts[i],k=(yLo-a[1])/(b[1]-a[1]);
      out.push([a[0]+(b[0]-a[0])*k,yLo]);
    }
    break;
  }
  return out;
}
function blobPath(pts,sx,sy){
  const P=pts.map(p=>[sx(p[0]),sy(p[1])]),n=P.length;
  let d='M'+P[0][0].toFixed(1)+' '+P[0][1].toFixed(1);
  for(let i=0;i<n;i++){
    const a=P[(i-1+n)%n],b=P[i],c=P[(i+1)%n],e=P[(i+2)%n];
    d+='C'+(b[0]+(c[0]-a[0])/6).toFixed(1)+' '+(b[1]+(c[1]-a[1])/6).toFixed(1)+' '+(c[0]-(e[0]-b[0])/6).toFixed(1)+' '+(c[1]-(e[1]-b[1])/6).toFixed(1)+' '+c[0].toFixed(1)+' '+c[1].toFixed(1);
  }
  return d+'Z';
}
function hexRgb(c){return [parseInt(c.slice(1,3),16),parseInt(c.slice(3,5),16),parseInt(c.slice(5,7),16)];}
function ramp(stops,t){
  t=Math.max(0,Math.min(1,t));
  const f=t*(stops.length-1),i=Math.min(Math.floor(f),stops.length-2),k=f-i;
  const a=hexRgb(stops[i]),b=hexRgb(stops[i+1]);
  return 'rgb('+a.map((v,j)=>Math.round(v+(b[j]-v)*k)).join(',')+')';
}
function gradient(stops){
  const id='grad'+(uid++);
  const g=document.createElementNS(NS,'linearGradient');
  g.setAttribute('id',id);g.setAttribute('x1','0');g.setAttribute('y1','1');g.setAttribute('x2','0');g.setAttribute('y2','0');
  stops.forEach((c,i)=>{
    const s=document.createElementNS(NS,'stop');
    s.setAttribute('offset',i/(stops.length-1));
    s.setAttribute('stop-color',c);
    g.appendChild(s);
  });
  defs.appendChild(g);
  return id;
}
function clipRect(x,y,w,h){
  const id='clip'+(uid++);
  const c=document.createElementNS(NS,'clipPath');
  c.setAttribute('id',id);
  const r=document.createElementNS(NS,'rect');
  r.setAttribute('x',x);r.setAttribute('y',y);r.setAttribute('width',w);r.setAttribute('height',h);
  c.appendChild(r);defs.appendChild(c);
  return id;
}
function fmtTick(v,d){return v.toFixed(d).replace('-','\u2212');}
function panelLetter(s,x,y,size){txt(root,'panel-label-'+s.toLowerCase(),s,x,y,size,'"Liberation Sans",sans-serif',{fill:'#000'});}

/* ---------- Panels A and B ---------- */
function classLegend(g,x,y){
  const lg=group(g,'class-legend');
  el(lg,'rect','legend-frame',{x:x,y:y,width:448,height:47,rx:8,fill:'#fff',stroke:'#2f5597','stroke-width':4.5});
  el(lg,'circle','legend-marker-healthy',{cx:x+26,cy:y+23,r:14,fill:'#3a7db0',stroke:'#2f5597','stroke-width':5});
  txt(lg,'legend-label-healthy','Healthy',x+50,y+32,25.5,SANS,{len:97});
  el(lg,'circle','legend-marker-cervical',{cx:x+172,cy:y+23,r:14,fill:'#c9504a',stroke:'#8b3a10','stroke-width':5});
  txt(lg,'legend-label-cervical','Cervical carcinoma',x+193,y+32,25.5,SANS,{len:243});
}
function points(g,pts,sx,sy,fill,r,name){
  pts.forEach(p=>{
    el(g,'circle',name,{cx:sx(p[0]).toFixed(1),cy:sy(p[1]).toFixed(1),r:r,fill:fill,'fill-opacity':.85,stroke:'#2b2b2b','stroke-opacity':.75,'stroke-width':1.3});
  });
}
function scatterPanel(c){
  const g=group(root,c.name);
  const B=c.box;
  const sx=scale(0,c.x0,1,c.x0+c.xk),sy=scale(0,c.y0,1,c.y0-c.yk);
  [[c.hKde,'#cfe2f6',.5],[c.hIn,'#b9d4ee',.25],[c.cKde,'#fbd9cc',.42],[c.cIn,'#f8cfa6',.25]].forEach(a=>{
    el(g,'path','kde-contour',{d:blobPath(a[0],sx,sy),fill:a[1],'fill-opacity':a[2],stroke:'#d8b8a8','stroke-opacity':.2});
  });
  el(g,'line','zero-line-horizontal',{x1:B[0],x2:B[1],y1:c.y0,y2:c.y0,stroke:'#55606e','stroke-width':3,'stroke-dasharray':'5 3'});
  el(g,'line','zero-line-vertical',{x1:c.x0,x2:c.x0,y1:B[2],y2:B[3],stroke:'#666','stroke-width':1.2,'stroke-dasharray':'12 5'});
  points(g,c.h,sx,sy,'#3f96dc',6.5,'healthy-point');
  points(g,c.c,sx,sy,'#e9605a',6.5,'cervical-point');
  el(g,'rect','plot-frame',{x:B[0],y:B[2],width:B[1]-B[0],height:B[3]-B[2],fill:'none',stroke:'#777','stroke-width':1.2});
  el(g,'line','plot-frame-top',{x1:B[0],x2:B[1],y1:B[2],y2:B[2],stroke:'#444','stroke-width':2});
  el(g,'line','plot-frame-bottom',{x1:B[0],x2:B[1],y1:B[3],y2:B[3],stroke:'#444','stroke-width':2.5});
  c.xt.forEach(v=>{
    el(g,'line','x-tick',{x1:sx(v),x2:sx(v),y1:B[3],y2:B[3]+6,stroke:'#444','stroke-width':1.2});
    txt(g,'x-tick-label',fmtTick(v,c.d),sx(v),B[3]+22,14,SANS,{anchor:'middle',fill:'#333'});
  });
  c.yt.forEach(v=>{
    el(g,'line','y-tick',{x1:B[0]-5,x2:B[0],y1:sy(v),y2:sy(v),stroke:'#444','stroke-width':1.2});
    txt(g,'y-tick-label',fmtTick(v,c.d),B[0]-6,sy(v)+5,14,SANS,{anchor:'end',fill:'#333'});
  });
  classLegend(g,c.lx,c.ly);
  txt(g,'chart-title',c.title,(B[0]+B[1])/2,139,37,SANS,{anchor:'middle',len:c.tl});
  txt(g,'x-axis-title',c.xl,(B[0]+B[1])/2,604,38,SANS,{anchor:'middle',len:c.xll});
  txt(g,'y-axis-title',c.yl,c.ylx,c.ylc,38,SANS,{anchor:'middle',rot:-90,len:c.yll});
}
const pX=u=>1950+11.6*u, pY=v=>4.08*v;
function pane3d(g,V){
  const poly=a=>a.map(p=>p.join(',')).join(' ');
  el(g,'polygon','left-wall',{points:poly([V.top,V.left,V.leftB,V.back]),fill:'#f8f8f8'});
  el(g,'polygon','right-wall',{points:poly([V.top,V.right,V.rightB,V.back]),fill:'#f5f5f5'});
  el(g,'polygon','floor',{points:poly([V.back,V.leftB,V.front,V.rightB]),fill:'#fbfbfb'});
  const mix=(a,b,t)=>[a[0]+(b[0]-a[0])*t,a[1]+(b[1]-a[1])*t];
  const ln=(a,b)=>el(g,'line','grid-line',{x1:a[0],y1:a[1],x2:b[0],y2:b[1],stroke:'#e0e0e0','stroke-width':1.1});
  for(let i=1;i<6;i++){
    const t=i/6;
    ln(mix(V.top,V.left,t),mix(V.back,V.leftB,t));
    ln(mix(V.top,V.right,t),mix(V.back,V.rightB,t));
    ln(mix(V.top,V.back,t),mix(V.left,V.leftB,t));
    ln(mix(V.top,V.back,t),mix(V.right,V.rightB,t));
    ln(mix(V.back,V.leftB,t),mix(V.rightB,V.front,t));
    ln(mix(V.back,V.rightB,t),mix(V.leftB,V.front,t));
  }
  el(g,'line','axis-edge',{x1:V.leftB[0],y1:V.leftB[1],x2:V.front[0],y2:V.front[1],stroke:'#777','stroke-width':1.2});
  el(g,'line','axis-edge',{x1:V.front[0],y1:V.front[1],x2:V.rightB[0],y2:V.rightB[1],stroke:'#777','stroke-width':1.2});
}
function panel3d(c){
  const g=group(root,c.name);
  pane3d(g,c.pane);
  points(g,c.h,pX,pY,'#3f96dc',5.5,'healthy-point');
  points(g,c.c,pX,pY,'#e9605a',5.5,'cervical-point');
  c.ticks.forEach(t=>{txt(g,'tick-label',t[0],pX(t[1]),pY(t[2])+4,10.5,SANS,{anchor:'middle',fill:'#333'});});
  classLegend(g,c.lx,c.ly);
  txt(g,'chart-title',c.title,c.tx,c.ty,27,SANS,{anchor:'middle',len:c.tl});
  c.labels.forEach(l=>{txt(g,'axis-title',l[0],l[1],l[2],l[3],SANS,{anchor:'middle',rot:l[4],len:l[5]});});
}
panelLetter('A',35,80,86);
panelLetter('B',1967,73,81);
scatterPanel({name:'pca-kde-plot',box:[112,655,146,551],x0:385.5,xk:19.7,y0:309,yk:12.2,h:pcaHealthy,c:pcaCervical,hKde:pcaHealthyKde,hIn:pcaHealthyKdeInner,cKde:pcaCervicalKde,cIn:pcaCervicalKdeInner,xt:pcaXTicks,yt:pcaYTicks,d:0,lx:205,ly:148,title:'PCA Plot with KDE Plots',tl:428,xl:'PC1',xll:68,yl:'PC2',ylx:67,ylc:353,yll:68});
scatterPanel({name:'kpca-kde-plot',box:[752,1295,146,551],x0:961,xk:362,y0:353,yk:386,h:kpcaHealthy,c:kpcaCervical,hKde:kpcaHealthyKde,hIn:kpcaHealthyKdeInner,cKde:kpcaCervicalKde,cIn:kpcaCervicalKdeInner,xt:kpcaXTicks,yt:kpcaYTicks,d:1,lx:843,ly:148,title:'KPCA Plot with KDE Plots',tl:452,xl:'KPC1',xll:90,yl:'KPC2',ylx:708,ylc:353,yll:88});
scatterPanel({name:'tsne-kde-plot',box:[1404,1946,146,551],x0:1678,xk:6.4,y0:352,yk:3.84,h:tsneHealthy,c:tsneCervical,hKde:tsneHealthyKde,hIn:tsneHealthyKdeInner,cKde:tsneCervicalKde,cIn:tsneCervicalKdeInner,xt:tsneXTicks,yt:tsneYTicks,d:0,lx:1494,ly:151,title:'TSNE Plot with KDE Plots',tl:450,xl:'TSNE Dimension 1',xll:332,yl:'TSNE Dimension 2',ylx:1357,ylc:351,yll:330});
panel3d({name:'pca-3d-plot',pane:{top:[2252,159],left:[2078,269],leftB:[2089,483],back:[2246,359],right:[2530,216],rightB:[2518,422],front:[2368,577]},h:pca3dHealthy,c:pca3dCervical,lx:2122,ly:111,title:'PCA 3D Plot',tx:2322,ty:104,tl:159,
 ticks:[['15.0',51.2,54.1],['12.5',51.2,60],['10.0',51,65.8],['7.5',51,71.6],['5.0',50.8,77.3],['2.5',50.8,83],['0.0',50.5,88.6],['−2.5',50.5,94.2],['−5.0',50.5,99.8],['−10.0',12.2,124.2],['−7.5',14.8,126.5],['−5.0',17.4,129],['−2.5',20,131.3],['0.0',22.7,134],['2.5',25.2,136.5],['5.0',27.8,138.8],['7.5',30.5,141.2],['10.0',33.3,143.8],['−15',37.8,143.3],['−10',40.5,135.5],['−5',43,127.8],['0',45.3,120.8],['5',47.7,113.8]],
 labels:[['PC1',2144,582,30,0,50],['PC2',2516,550,30,0,50],['PC3',2584,327,30,0,50]]});
panel3d({name:'kpca-3d-plot',pane:{top:[2895,157],left:[2704,261],leftB:[2713,461],back:[2895,355],right:[3162,222],rightB:[3151,416],front:[2977,585]},h:kpca3dHealthy,c:kpca3dCervical,lx:2739,ly:102,title:'KPCA 3D Plot',tx:2929,ty:98,tl:176,
 ticks:[['0.4',63.4,76],['0.2',63.7,85.8],['0.0',63.9,95.5],['−0.2',64.1,104.8],['−0.4',64.3,114],['−0.4',66.7,120.3],['−0.2',70.9,125.7],['0.0',75.1,131.2],['0.2',79.4,136.8],['0.4',83.8,142.5],['−0.2',101.8,113],['0.0',98.9,121.7],['0.2',95.9,130.7],['0.4',92.5,139.5]],
 labels:[['KPC3',2658,289,32,0,82],['KPC2',2747,558,32,0,82],['KPC1',3139,534,32,0,82]]});
panel3d({name:'tsne-3d-plot',pane:{top:[3414,147],left:[3240,265],leftB:[3252,475],back:[3414,347],right:[3693,208],rightB:[3681,412],front:[3533,567]},h:tsne3dHealthy,c:tsne3dCervical,lx:3274,ly:99,title:'T-SNE 3D Plot',tx:3464,ty:94,tl:186,
 ticks:[['20',151.5,52],['15',151.3,58.5],['10',151.2,65.2],['5',151,71.8],['0',151,78.5],['−5',150.8,85],['−10',150.7,91.7],['−15',150.5,98.2],['−30',111.7,121],['−20',115.3,124.5],['−10',118.8,127.8],['0',122.5,131.3],['10',126,134.5],['20',129.8,138],['30',133.5,141.5],['−20',139.5,136.5],['−10',142,127.8],['0',144.5,121.5],['10',146.8,114.7],['20',149,108]],
 labels:[['TSNE Dimension 1',3375,545,28,20,218],['TSNE Dimension 2',3640,522,28,-44,222],['TSNE Dimension 3',3726,310,28,-90,205]]});

/* ---------- Panel C ---------- */
panelLetter('C',40,709,86);
function confusion(g,m,mx,dy){
  const ig=group(g,'confusion-matrix-inset');
  el(ig,'rect','inset-background',{x:mx-53,y:790+dy,width:379,height:414,fill:'#fff'});
  const y0=825+dy,cw=132.5,ch=164.5;
  txt(ig,'inset-title','Confusion Matrix for '+m.model,mx+132,818+dy,25.5,SERIF,{anchor:'middle',len:m.itl});
  const vals=m.conf,vMin=Math.min.apply(null,vals),vMax=Math.max.apply(null,vals);
  vals.forEach((v,i)=>{
    const t=(v-vMin)/(vMax-vMin),cx=mx+(i%2)*cw,cy=y0+Math.floor(i/2)*ch;
    el(ig,'rect','matrix-cell',{x:cx,y:cy,width:cw,height:ch,fill:ramp(m.cmap,t)});
    txt(ig,'matrix-value',String(v),cx+cw/2,cy+ch/2+13,38,SERIF,{anchor:'middle',fill:t>.5?'#fff':'#262626'});
  });
  el(ig,'rect','matrix-colorbar',{x:mx+282,y:y0,width:17,height:2*ch,fill:'url(#'+gradient(m.cmap)+')'});
  txt(ig,'y-class-label',confusionLabels[0],mx-7,y0+83,18.6,SERIF,{anchor:'middle',rot:-90,len:58});
  txt(ig,'y-class-label',confusionLabels[1],mx-7,y0+248,18.6,SERIF,{anchor:'middle',rot:-90,len:150});
  txt(ig,'x-class-label',confusionLabels[0],mx+66,y0+347,18.6,SERIF,{anchor:'middle',len:58});
  txt(ig,'x-class-label',confusionLabels[1],mx+199,y0+347,18.6,SERIF,{anchor:'middle',len:150});
  txt(ig,'matrix-y-title','True',mx-26,y0+165,25,SERIF,{anchor:'middle',rot:-90});
  txt(ig,'matrix-x-title','Predicted',mx+132,y0+370,25,SERIF,{anchor:'middle'});
}
function rocPanel(m){
  const g=group(root,'roc-panel-'+m.model.toLowerCase());
  const dy=m.row*826,t0=m.t0,t1=t0+765;
  const boxL=t0-16,boxR=t0+781,sx=scale(0,t0,1,t1),sy=scale(0,1391+dy,1,757+dy);
  rocTicks.forEach(v=>{
    el(g,'line','grid-line-vertical',{x1:sx(v),x2:sx(v),y1:746+dy,y2:1404+dy,stroke:'#eee','stroke-width':1.5});
    el(g,'line','grid-line-horizontal',{x1:boxL,x2:boxR,y1:sy(v),y2:sy(v),stroke:'#eee','stroke-width':1.5});
  });
  el(g,'line','chance-diagonal',{x1:sx(0),y1:sy(0),x2:sx(1),y2:sy(1),stroke:'#999','stroke-width':1.6,'stroke-dasharray':'9 5'});
  el(g,'path','healthy-std-band',{d:bandPath(m.hUp,m.hLow,sx,sy),fill:'#ff0000','fill-opacity':.2});
  el(g,'path','cervical-std-band',{d:bandPath(m.cUp,m.cLow,sx,sy),fill:'#008000','fill-opacity':.2});
  el(g,'path','total-std-band',{d:bandPath(m.up,m.low,sx,sy),fill:'#808080','fill-opacity':.4});
  el(g,'path','healthy-mean-roc',{d:linePath(m.healthy,sx,sy),fill:'none',stroke:'#ff0000','stroke-width':3.2});
  el(g,'path','cervical-mean-roc',{d:linePath(m.cervical,sx,sy),fill:'none',stroke:'#008000','stroke-width':3.2});
  el(g,'path','total-mean-roc',{d:linePath(m.total,sx,sy),fill:'none',stroke:'#000','stroke-width':3.2});
  confusion(g,m,m.mx,dy);
  el(g,'rect','plot-frame',{x:boxL,y:746+dy,width:boxR-boxL,height:658,fill:'none',stroke:'#777','stroke-width':2.5});
  rocTicks.forEach(v=>{
    txt(g,'x-tick-label',v.toFixed(1),sx(v),1424+dy,14,SERIF,{anchor:'middle',fill:'#333'});
    txt(g,'y-tick-label',v.toFixed(1),boxL-5,sy(v)+5,14,SERIF,{anchor:'end',fill:'#333'});
  });
  const lg=group(g,'roc-legend');
  el(lg,'rect','legend-frame',{x:t0+11,y:1204+dy,width:754,height:186,rx:6,fill:'#fff','fill-opacity':.85,stroke:'#ddd','stroke-width':1.5});
  const entries=['Healthy Mean ROC (AUC = '+m.auc[0]+')','Cervical_carcinoma Mean ROC (AUC = '+m.auc[1]+')','Total Mean ROC (AUC = '+m.auc[2]+')'];
  ['#ff0000','#008000','#000000'].forEach((c,i)=>{
    const y=1228+45*i+dy;
    el(lg,'line','legend-line',{x1:t0+23,x2:t0+84,y1:y,y2:y,stroke:c,'stroke-width':3});
    txt(lg,'legend-label',entries[i],t0+107,y+11,30,SERIF,{fill:'#222'});
  });
  el(lg,'rect','legend-std-swatch',{x:t0+23,y:1350+dy,width:61,height:22,fill:'#c8c8c8',stroke:'#aaa','stroke-width':1});
  txt(lg,'legend-label','Total ± 1 std. dev.',t0+107,1372+dy,30,SERIF,{fill:'#222'});
  txt(g,'chart-title','ROC Curve for '+m.model,m.tc,733+dy,56,SERIF,{anchor:'middle',len:m.tl,fill:'#000'});
  txt(g,'x-axis-title','False Positive Rate (FPR)',t0+382,1458+dy,48,SERIF,{anchor:'middle',len:490,fill:'#000'});
  txt(g,'y-axis-title','True Positive Rate (TPR)',m.ylx,1075+dy,47,SERIF,{anchor:'middle',rot:-90,len:480,fill:'#000'});
}
rocPanel({model:'KNN',row:0,t0:141,mx:535,tc:517,tl:456,itl:270,ylx:92,conf:knnConfusion,cmap:Reds,auc:rocLegendAuc[0],total:knnTotal,up:knnUp,low:knnLow,healthy:knnHealthy,hUp:knnHUp,hLow:knnHLow,cervical:knnCervical,cUp:knnCUp,cLow:knnCLow});
rocPanel({model:'SVM',row:0,t0:1069,mx:1465,tc:1445,tl:457,itl:271,ylx:1020,conf:svmConfusion,cmap:OrRd,auc:rocLegendAuc[1],total:svmTotal,up:svmUp,low:svmLow,healthy:svmTotal,hUp:svmUp,hLow:svmLow,cervical:svmTotal,cUp:svmUp,cLow:svmLow});
rocPanel({model:'DecisionTree',row:0,t0:1999,mx:2389,tc:2375,tl:628,itl:350,ylx:1949,conf:dtConfusion,cmap:Blues,auc:rocLegendAuc[2],total:dtTotal,up:dtUp,low:dtLow,healthy:dtHealthy,hUp:dtHUp,hLow:dtHLow,cervical:dtCervical,cUp:dtCUp,cLow:dtCLow});
rocPanel({model:'GaussianNB',row:0,t0:2929,mx:3323,tc:3303,tl:610,itl:343,ylx:2877,conf:gnbConfusion,cmap:PuBu,auc:rocLegendAuc[3],total:gnbTotal,up:gnbUp,low:gnbLow,healthy:gnbHealthy,hUp:gnbHUp,hLow:gnbHLow,cervical:gnbCervical,cUp:gnbCUp,cLow:gnbCLow});
rocPanel({model:'AdaBoost',row:1,t0:141,mx:537,tc:519,tl:558,itl:314,ylx:92,conf:adaConfusion,cmap:Greens,auc:rocLegendAuc[4],total:adaTotal,up:adaUp,low:adaLow,healthy:adaTotal,hUp:adaUp,hLow:adaLow,cervical:adaTotal,cUp:adaUp,cLow:adaLow});
rocPanel({model:'RandomForest',row:1,t0:1069,mx:1458,tc:1446,tl:656,itl:364,ylx:1020,conf:rfConfusion,cmap:YlGn,auc:rocLegendAuc[5],total:rfTotal,up:rfUp,low:rfLow,healthy:rfTotal,hUp:rfUp,hLow:rfLow,cervical:rfTotal,cUp:rfUp,cLow:rfLow});
rocPanel({model:'LGBM',row:1,t0:1999,mx:2394,tc:2375,tl:495,itl:289,ylx:1949,conf:lgbmConfusion,cmap:YlOrRd,auc:rocLegendAuc[6],total:lgbmTotal,up:lgbmUp,low:lgbmLow,healthy:lgbmTotal,hUp:lgbmUp,hLow:lgbmLow,cervical:lgbmTotal,cUp:lgbmUp,cLow:lgbmLow});
rocPanel({model:'XGBoost',row:1,t0:2929,mx:3336,tc:3321,tl:552,itl:318,ylx:2877,conf:xgbConfusion,cmap:Purples,auc:rocLegendAuc[7],total:xgbTotal,up:xgbUp,low:xgbLow,healthy:xgbTotal,hUp:xgbUp,hLow:xgbLow,cervical:xgbTotal,cUp:xgbUp,cLow:xgbLow});

/* ---------- Panel D ---------- */
panelLetter('D',103,2410,72);
(function(){
  const g=group(root,'total-roc-comparison');
  const sx=scale(0,316,1,1721),sy=scale(0,3633,1,2469);
  const totals=[knnTotal,svmTotal,dtTotal,gnbTotal,adaTotal,rfTotal,lgbmTotal,xgbTotal];
  const ups=[knnUp,svmUp,dtUp,gnbUp,adaUp,rfUp,lgbmUp,xgbUp];
  const lows=[knnLow,svmLow,dtLow,gnbLow,adaLow,rfLow,lgbmLow,xgbLow];
  rocTicks.forEach(v=>{
    el(g,'line','grid-line-vertical',{x1:sx(v),x2:sx(v),y1:2445,y2:3657,stroke:'#e6e6e6','stroke-width':1.5});
    el(g,'line','grid-line-horizontal',{x1:288,x2:1749,y1:sy(v),y2:sy(v),stroke:'#e6e6e6','stroke-width':1.5});
    txt(g,'x-tick-label',v.toFixed(1),sx(v),3688,22,SERIF,{anchor:'middle',fill:'#333'});
    txt(g,'y-tick-label',v.toFixed(1),280,sy(v)+7,22,SERIF,{anchor:'end',fill:'#333'});
  });
  el(g,'line','chance-diagonal',{x1:sx(0),y1:sy(0),x2:sx(1),y2:sy(1),stroke:'#888','stroke-width':2.2,'stroke-dasharray':'10 5'});
  modelNames.forEach((n,i)=>{
    el(g,'path','confidence-band-'+n.toLowerCase(),{d:bandPath(ups[i],lows[i],sx,sy),fill:modelColors[i],'fill-opacity':.2});
  });
  modelNames.forEach((n,i)=>{
    el(g,'path','mean-roc-'+n.toLowerCase(),{d:linePath(totals[i],sx,sy),fill:'none',stroke:modelColors[i],'stroke-width':4.5});
  });
  el(g,'rect','plot-frame',{x:288,y:2445,width:1461,height:1212,fill:'none',stroke:'#444','stroke-width':2.5});
  const lg=group(g,'comparison-legend');
  el(lg,'rect','legend-frame',{x:455,y:2956,width:1266,height:673,rx:8,fill:'#fff','fill-opacity':.85,stroke:'#ddd','stroke-width':2});
  modelNames.forEach((n,i)=>{
    const y=3001+82.1*i;
    el(lg,'line','legend-line',{x1:475,x2:588,y1:y,y2:y,stroke:modelColors[i],'stroke-width':4.5});
    txt(lg,'legend-label',n+' Mean ROC (AUC = '+totalAucLabels[i]+')',630,y+19,55,SERIF,{fill:'#111'});
  });
  txt(g,'chart-title','Comparison of Total ROC Curves (with Confidence Interval)',1018,2429,62,SERIF,{anchor:'middle',len:1604,fill:'#000'});
  txt(g,'x-axis-title','False Positive Rate (FPR)',1021,3760,67,SERIF,{anchor:'middle',len:680,fill:'#000'});
  txt(g,'y-axis-title','True Positive Rate (TPR)',226,3051,68,SERIF,{anchor:'middle',rot:-90,len:663,fill:'#000'});
})();

/* ---------- Panel E ---------- */
panelLetter('E',1939,2378,72);
(function(){
  const g=group(root,'evaluation-heatmap');
  const rows=[scoreKNN,scoreSVM,scoreDT,scoreGNB,scoreAda,scoreRF,scoreLGBM,scoreXGB];
  const x0=2274,y0=2445,cw=225.6,ch=151.75,vMin=.7825,vMax=.999;
  const labelY=[3745,3745,3735,3742,3725];
  rows.forEach((row,r)=>{
    row.forEach((v,c)=>{
      const t=(v-vMin)/(vMax-vMin);
      el(g,'rect','heatmap-cell',{x:x0+c*cw,y:y0+r*ch,width:cw+.5,height:ch+.5,fill:ramp(Spectral,t)});
      txt(g,'heatmap-value',v.toFixed(2),x0+(c+.5)*cw,y0+(r+.5)*ch+6,49,SERIF,{anchor:'middle',fill:(t>.2&&t<.82)?'#262626':'#fff'});
    });
    el(g,'line','row-tick',{x1:x0-6,x2:x0,y1:y0+(r+.5)*ch,y2:y0+(r+.5)*ch,stroke:'#333','stroke-width':1.5});
    txt(g,'row-label',modelNames[r],2264,y0+(r+.5)*ch+6,49,SERIF,{anchor:'end',fill:'#111'});
  });
  metricNames.forEach((n,c)=>{
    el(g,'line','column-tick',{x1:x0+(c+.5)*cw,x2:x0+(c+.5)*cw,y1:3659,y2:3665,stroke:'#333','stroke-width':1.5});
    txt(g,'column-label',n,x0+(c+.5)*cw+13,labelY[c],49,SERIF,{anchor:'middle',rot:-30,fill:'#111'});
  });
  const sy=scale(.975,2579,.8,3559);
  el(g,'rect','heatmap-colorbar',{x:3472,y:2445,width:61,height:1214,fill:'url(#'+gradient(Spectral)+')'});
  colorbarTicks.forEach(v=>{
    el(g,'line','colorbar-tick',{x1:3533,x2:3539,y1:sy(v),y2:sy(v),stroke:'#333','stroke-width':1.5});
    txt(g,'colorbar-tick-label',v.toFixed(3),3540,sy(v)+16,49,SERIF,{fill:'#111'});
  });
  txt(g,'chart-title','All classifiers average evaluation index comparison',2838,2429,58,SERIF,{anchor:'middle',len:1243,fill:'#000'});
})();

/* ---------- Panel F ---------- */
panelLetter('F',103,3843,84);
function dcaPanel(c){
  const g=group(root,'dca-panel-'+c.model.toLowerCase());
  const B=c.box,sx=scale(0,B[0],1,B[1]),sy=scale(c.ys[0],c.ys[1],c.ys[2],c.ys[3]);
  const yFloor=scale(c.ys[1],c.ys[0],c.ys[3],c.ys[2])(B[3]);
  const clip=clipRect(B[0],B[2],B[1]-B[0],B[3]-B[2]);
  c.yt.forEach(v=>{
    el(g,'line','grid-line-horizontal',{x1:B[0],x2:B[1],y1:sy(v),y2:sy(v),stroke:'#c8c8c8','stroke-width':2.4});
    txt(g,'y-tick-label',fmtTick(v,c.d),B[0]-6,sy(v)+7,19,SANS,{anchor:'end',fill:'#333'});
  });
  dcaXTicks.forEach(v=>{
    el(g,'line','grid-line-vertical',{x1:sx(v),x2:sx(v),y1:B[2],y2:B[3],stroke:'#bdbdbd','stroke-width':1.4});
    txt(g,'x-tick-label',v.toFixed(1),sx(v),B[3]+27,19,SANS,{anchor:'middle',fill:'#333'});
  });
  const pg=el(g,'g','dca-curves',{'clip-path':'url(#'+clip+')'});
  const xEnd=c.line[c.line.length-1][0];
  const floor=treatAllThreshold.map((t,i)=>[t,Math.max(treatAllBenefit[i],0)]).filter(p=>p[0]<xEnd);
  floor.push([xEnd,0]);
  const top=c.line.map(p=>[p[0],Math.max(p[1],0)]);
  el(pg,'path','net-benefit-area',{d:bandPath(top,floor,sx,sy),fill:c.color,'fill-opacity':.3});
  el(pg,'path','net-benefit-band',{d:bandPath(clampSeries(c.up,yFloor),clampSeries(c.low,yFloor),sx,sy),fill:c.color,'fill-opacity':.18});
  const treatAll=clampSeries(treatAllThreshold.map((t,i)=>[t,treatAllBenefit[i]]),yFloor);
  el(pg,'path','treat-all-line',{d:linePath(treatAll,sx,sy),fill:'none',stroke:'#b04aa6','stroke-width':c.taw||2.6});
  el(pg,'line','treat-none-line',{x1:B[0],x2:B[1],y1:sy(0),y2:sy(0),stroke:'#58b858','stroke-width':3});
  el(pg,'path','model-line',{d:linePath(clampSeries(c.line,yFloor),sx,sy),fill:'none',stroke:c.color,'stroke-width':4});
  el(g,'rect','plot-frame',{x:B[0],y:B[2],width:B[1]-B[0],height:B[3]-B[2],fill:'none',stroke:'#888','stroke-width':1.2});
  el(g,'line','plot-frame-top',{x1:B[0],x2:B[1],y1:B[2],y2:B[2],stroke:'#444','stroke-width':2.4});
  el(g,'line','plot-frame-bottom',{x1:B[0],x2:B[1],y1:B[3],y2:B[3],stroke:'#444','stroke-width':2.4});
  const lg=group(g,'dca-legend');
  const lx=B[1]-373,ly=c.ly;
  el(lg,'rect','legend-frame',{x:lx,y:ly,width:352,height:185,rx:7,fill:'#fff','fill-opacity':.82,stroke:'#ddd','stroke-width':1.8});
  [['Model',c.color,117],['Treat all','#b04aa6',156],['Treat none','#58b858',212]].forEach((e,i)=>{
    const y=ly+29+60*i;
    el(lg,'line','legend-line',{x1:lx+11,x2:lx+94,y1:y,y2:y,stroke:e[1],'stroke-width':4.5});
    txt(lg,'legend-label',e[0],lx+128,y+15,40,SANS,{len:e[2],fill:'#111'});
  });
  const ab=group(g,'area-annotation');
  el(ab,'rect','area-box',{x:B[0]+59,y:c.ay,width:311,height:79,rx:11,fill:'#fff',stroke:'#888','stroke-width':1.8});
  txt(ab,'area-label','Area: '+c.area,B[0]+214,c.ay+55,47,SANS,{anchor:'middle',len:281,fill:'#000'});
  const tClip=clipRect((B[0]+B[1])/2-500,B[2]-70,500+c.tailClip,70);
  txt(g,'chart-title','DCA Curve for '+c.model,(B[0]+B[1])/2,c.ty,56,SANS,{anchor:'middle',clip:tClip,fill:'#000'});
  txt(g,'x-axis-title','Threshold Probability',(B[0]+B[1])/2,c.xb,49,SERIF,{anchor:'middle',len:424,fill:'#000'});
  txt(g,'y-axis-title','Net Benefit',c.ylx,c.ylc,50,SERIF,{anchor:'middle',rot:-90,len:228,fill:'#000'});
}
dcaPanel({model:'KNN',box:[240,965,3913,4461],ys:[0,4461,.5,3965],yt:[0,.1,.2,.3,.4,.5],d:1,color:modelColors[0],line:dcaKnn,up:dcaKnnUp,low:dcaKnnLow,ly:3934,ay:4298,area:dcaAreas[0],ty:3901,tailClip:500,xb:4550,ylx:185,ylc:4187});
dcaPanel({model:'SVM',box:[1100,1824,3913,4461],ys:[0,4461,.5,3969],yt:[0,.1,.2,.3,.4,.5],d:1,color:modelColors[1],line:dcaSvm,up:dcaSvmUp,low:dcaSvmLow,ly:3934,ay:4298,area:dcaAreas[1],ty:3901,tailClip:500,xb:4550,ylx:1046,ylc:4187});
dcaPanel({model:'DecisionTree',box:[1960,2684,3913,4461],ys:[0,4026,-2,4447],yt:[.5,0,-.5,-1,-1.5,-2],d:1,color:modelColors[2],line:dcaDt,up:dcaDtUp,low:dcaDtLow,ly:3934,ay:4298,area:dcaAreas[2],ty:3901,tailClip:383,xb:4550,ylx:1889,ylc:4187,taw:3});
dcaPanel({model:'GaussianNB',box:[2821,3546,3913,4461],ys:[0,3930,-16,4442],yt:[0,-2,-4,-6,-8,-10,-12,-14,-16],d:0,color:modelColors[3],line:dcaGnb,up:dcaGnbUp,low:dcaGnbLow,ly:3934,ay:4298,area:dcaAreas[3],ty:3901,tailClip:500,xb:4550,ylx:2759,ylc:4187,taw:3});
dcaPanel({model:'AdaBoost',box:[240,965,4623,5171],ys:[0,5055,.5,4666],yt:[-.1,0,.1,.2,.3,.4,.5],d:1,color:modelColors[4],line:dcaAda,up:dcaAdaUp,low:dcaAdaLow,ly:4643,ay:5009,area:dcaAreas[4],ty:4610,tailClip:500,xb:5238,ylx:171,ylc:4897});
dcaPanel({model:'RandomForest',box:[1094,1818,4626,5175],ys:[0,5090,.5,4674],yt:[-.1,0,.1,.2,.3,.4,.5],d:1,color:modelColors[5],line:dcaRf,up:dcaRfUp,low:dcaRfLow,ly:4648,ay:5013,area:dcaAreas[5],ty:4614,tailClip:384,xb:5242,ylx:1026,ylc:4900});
dcaPanel({model:'LGBM',box:[1957,2682,4632,5181],ys:[0,5181,.5,4688],yt:[0,.1,.2,.3,.4,.5],d:1,color:modelColors[6],line:dcaLgbm,up:dcaLgbmUp,low:dcaLgbmLow,ly:4652,ay:5018,area:dcaAreas[6],ty:4619,tailClip:500,xb:5247,ylx:1898,ylc:4906});
dcaPanel({model:'XGBoost',box:[2821,3546,4632,5181],ys:[0,5181,.5,4688],yt:[0,.1,.2,.3,.4,.5],d:1,color:modelColors[7],line:dcaXgb,up:dcaXgbUp,low:dcaXgbLow,ly:4652,ay:5018,area:dcaAreas[7],ty:4619,tailClip:500,xb:5247,ylx:2766,ylc:4906});
</script>
</body>
</html>
